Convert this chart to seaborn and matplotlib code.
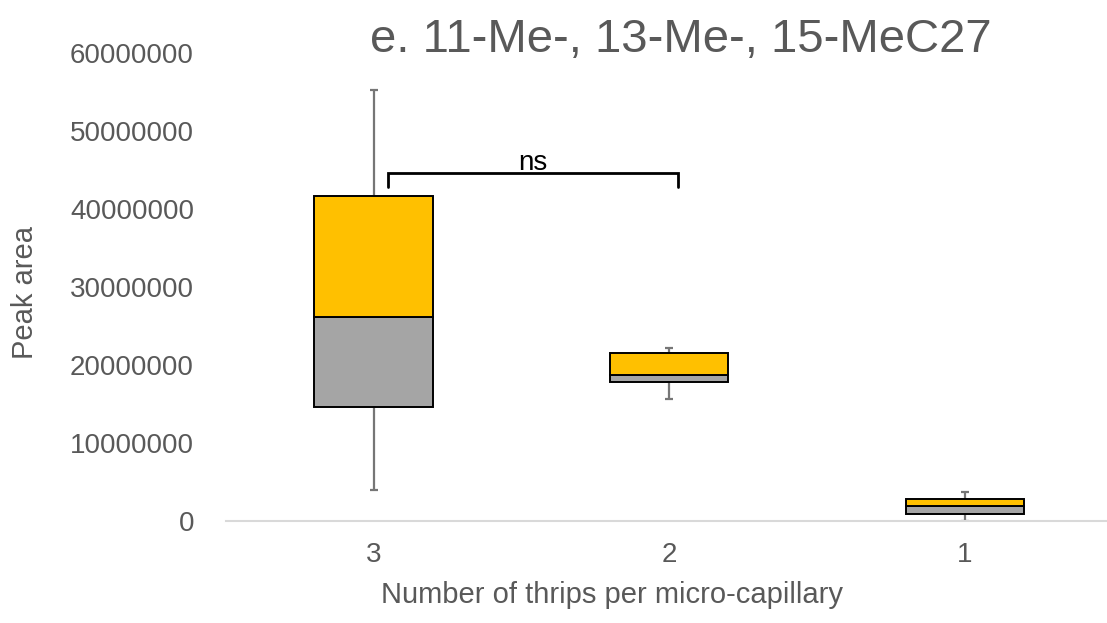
import numpy as np
import pandas as pd
import matplotlib
matplotlib.use("Agg")
import matplotlib.pyplot as plt
import seaborn as sns

# Box plot statistics (Excel style stacked box plot)
groups = ['3', '2', '1']
whisker_low = [4.0e6, 15.7e6, 0.0]
q1 = [14.6e6, 17.8e6, 0.94e6]
median = [26.2e6, 18.75e6, 1.88e6]
q3 = [41.7e6, 21.6e6, 2.82e6]
whisker_high = [55.3e6, 22.2e6, 3.76e6]

y_ticks = [0, 10000000, 20000000, 30000000, 40000000, 50000000, 60000000]

df = pd.DataFrame({'group': groups, 'lo': whisker_low, 'q1': q1, 'med': median,
                   'q3': q3, 'hi': whisker_high})

sns.set_theme(style='white')
plt.rcParams['font.family'] = ['Liberation Sans', 'DejaVu Sans']
text_col = '#595959'

fig = plt.figure(figsize=(11.07, 6.23), dpi=100)
ax = fig.add_axes([0.204, 0.1637, 0.801, 0.7512])

x = np.arange(len(df))

# whiskers drawn first, boxes cover the middle part
ax.errorbar(x, df['med'], yerr=[df['med'] - df['lo'], df['hi'] - df['med']],
            fmt='none', ecolor='#767676', elinewidth=1.6, capsize=3, capthick=1.6, zorder=1)

# lower part of box (Q1 -> median), grey
ax.bar(x, df['med'] - df['q1'], bottom=df['q1'], width=0.4, color='#A5A5A5',
       edgecolor='black', linewidth=1.4, zorder=2)
# upper part of box (median -> Q3), gold
ax.bar(x, df['q3'] - df['med'], bottom=df['med'], width=0.4, color='#FFC000',
       edgecolor='black', linewidth=1.4, zorder=2)

# significance bracket
ax.plot([0.05, 0.05, 1.03, 1.03], [42.8e6, 44.6e6, 44.6e6, 42.8e6], color='black',
        linewidth=2, solid_joinstyle='miter', zorder=3)
ax.text(0.54, 45.0e6, 'ns', ha='center', va='baseline', fontsize=20, color='black')

ax.set_xlim(-0.5, 2.5)
ax.set_ylim(0, 60000000)
ax.set_xticks(x)
ax.set_xticklabels(groups)
ax.set_yticks(y_ticks)
ax.set_yticklabels([str(t) for t in y_ticks])
ax.tick_params(axis='both', length=0, labelsize=20, labelcolor=text_col)
ax.tick_params(axis='y', pad=23)
ax.tick_params(axis='x', pad=15)

sns.despine(ax=ax, left=True)
ax.spines['bottom'].set_color('#D9D9D9')
ax.spines['bottom'].set_linewidth(1.5)
ax.spines['bottom'].set_zorder(4)

fig.text(0.615, 0.9165, 'e. 11-Me-, 13-Me-, 15-MeC27', ha='center', va='baseline',
         fontsize=34, color=text_col)
fig.text(0.553, 0.032, 'Number of thrips per micro-capillary', ha='center', va='baseline',
         fontsize=21, color=text_col)
fig.text(0.0226, 0.53, 'Peak area', ha='center', va='center', rotation=90,
         fontsize=21, color=text_col)

fig.savefig('out.png', dpi=100)
